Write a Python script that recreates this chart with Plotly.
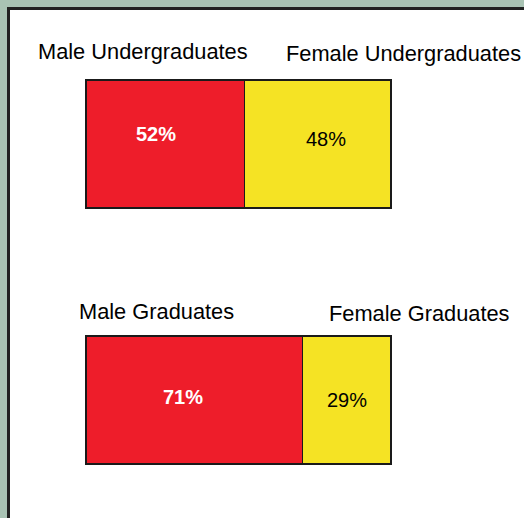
import plotly.graph_objects as go

# ---- data ----
groups = ["Undergraduates", "Graduates"]
male_labels = ["Male Undergraduates", "Male Graduates"]
female_labels = ["Female Undergraduates", "Female Graduates"]
male_pct = [52, 71]
female_pct = [48, 29]

W, H = 524, 518
RED = "#ee1d2a"
YELLOW = "#f5e324"
FONT = "Liberation Sans, Arial, sans-serif"

# pixel mapping for the axes (0..100 -> 86..391 px ; group centres at 144 / 400 px)
px_per_unit = (391 - 86) / 100.0
x_range = [-86 / px_per_unit, (W - 86) / px_per_unit]
py_per_unit = 400 - 144
y_range = [(H - 144) / py_per_unit, -144 / py_per_unit]
ypos = list(range(len(groups)))

fig = go.Figure()
fig.add_trace(go.Bar(
    y=ypos, x=male_pct, orientation="h", width=0.5,
    marker=dict(color=RED, line=dict(color="#1a1a1a", width=1.5)),
    hoverinfo="skip", showlegend=False,
))
fig.add_trace(go.Bar(
    y=ypos, x=female_pct, orientation="h", width=0.5,
    marker=dict(color=YELLOW, line=dict(color="#1a1a1a", width=1.5)),
    hoverinfo="skip", showlegend=False,
))

annotations = []
# value labels inside the bars
male_shift = [(-9, 10), (-11, 3)]
female_shift = [(8, 5), (0, 0)]
for i, (m, f) in enumerate(zip(male_pct, female_pct)):
    annotations.append(dict(
        x=m / 2, y=ypos[i], xref="x", yref="y", text=f"{m}%", showarrow=False,
        xshift=male_shift[i][0], yshift=male_shift[i][1],
        font=dict(family=FONT, size=20, color="white", weight="bold"),
    ))
    annotations.append(dict(
        x=m + f / 2, y=ypos[i], xref="x", yref="y", text=f"{f}%", showarrow=False,
        xshift=female_shift[i][0], yshift=female_shift[i][1],
        font=dict(family=FONT, size=20, color="black"),
    ))

# category labels above bars (pixel positions)
label_pos_male = [(143, 51), (156, 311)]
label_pos_female = [(403, 53), (419, 313)]
for i in range(len(groups)):
    for txt, (px, py) in ((male_labels[i], label_pos_male[i]), (female_labels[i], label_pos_female[i])):
        annotations.append(dict(
            x=px / W, y=1 - py / H, xref="paper", yref="paper", text=txt,
            showarrow=False, xanchor="center", yanchor="middle",
            font=dict(family=FONT, size=21.8, color="black"),
        ))

fig.update_layout(
    width=W, height=H,
    margin=dict(l=0, r=0, t=0, b=0),
    barmode="stack",
    paper_bgcolor="#a9c3b4",
    plot_bgcolor="rgba(0,0,0,0)",
    xaxis=dict(range=x_range, visible=False, fixedrange=True),
    yaxis=dict(range=y_range, visible=False, fixedrange=True),
    annotations=annotations,
    shapes=[dict(
        type="rect", xref="paper", yref="paper", layer="below",
        x0=8.5 / W, x1=1 + 20 / W, y0=-20 / H, y1=1 - 8.5 / H,
        fillcolor="white", line=dict(color="#222222", width=3),
    )],
)

fig.write_html(
    "out.html",
    config={"displayModeBar": False},
    post_script="document.body.style.margin='0';document.body.style.overflow='hidden';",
)
